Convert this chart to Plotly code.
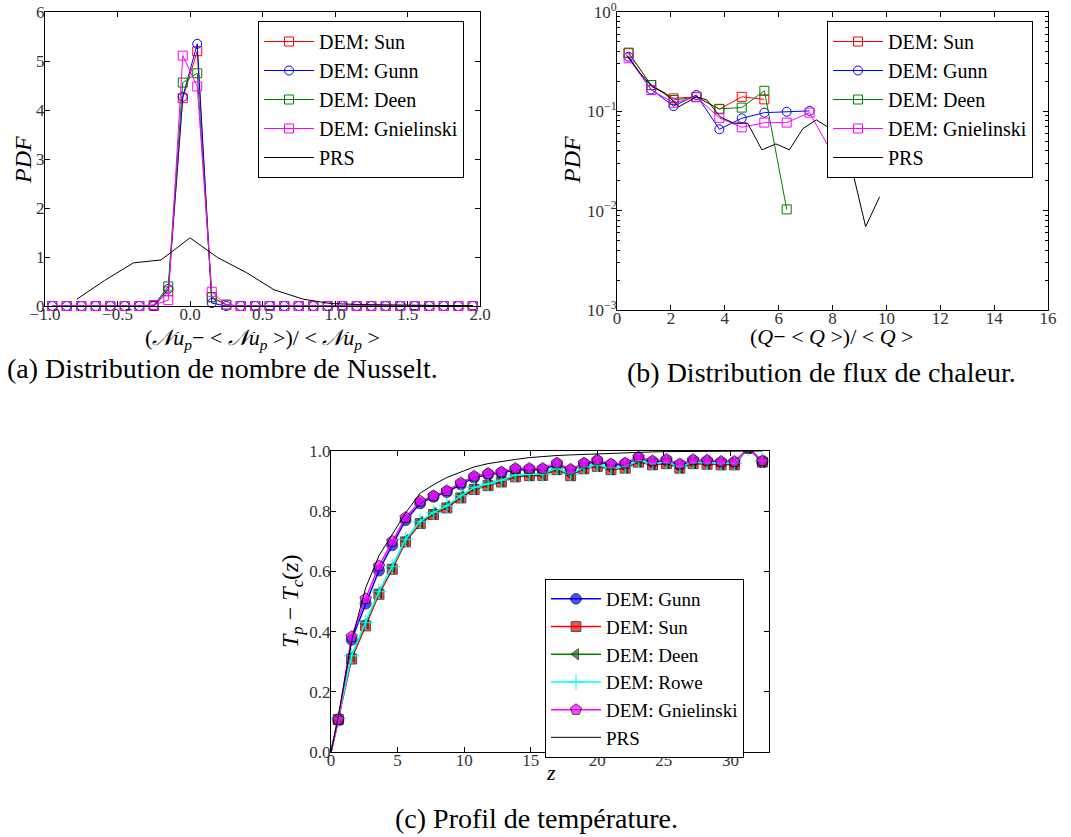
import plotly.graph_objects as go

# ---------------- (a) Nusselt distribution ----------------
nu_x = [-0.95, -0.85, -0.75, -0.65, -0.55, -0.45, -0.35, -0.25, -0.15, -0.05,
        0.05, 0.15, 0.25, 0.35, 0.45, 0.55, 0.65, 0.75, 0.85, 0.95,
        1.05, 1.15, 1.25, 1.35, 1.45, 1.55, 1.65, 1.75, 1.85, 1.95]
nu_sun = [0, 0, 0, 0, 0, 0, 0, 0.0, 0.30, 4.24, 5.20, 0.18, 0.02, 0, 0,
          0, 0, 0, 0, 0, 0, 0, 0, 0, 0, 0, 0, 0, 0, 0]
nu_gunn = [0, 0, 0, 0, 0, 0, 0, 0.0, 0.35, 4.27, 5.35, 0.06, 0.0, 0, 0,
           0, 0, 0, 0, 0, 0, 0, 0, 0, 0, 0, 0, 0, 0, 0]
nu_deen = [0, 0, 0, 0, 0, 0, 0, 0.02, 0.40, 4.56, 4.75, 0.18, 0.03, 0, 0,
           0, 0, 0, 0, 0, 0, 0, 0, 0, 0, 0, 0, 0, 0, 0]
nu_gniel = [0, 0, 0, 0, 0, 0, 0, 0.02, 0.12, 5.11, 4.48, 0.29, 0.02, 0, 0,
            0, 0, 0, 0, 0, 0, 0, 0, 0, 0, 0, 0, 0, 0, 0]
nu_prs_x = [-0.78, -0.59, -0.39, -0.20, 0.0, 0.19, 0.39, 0.58, 0.78, 0.97,
            1.17, 1.36, 1.56, 1.75, 1.95]
nu_prs = [0.14, 0.52, 0.88, 0.94, 1.39, 0.99, 0.68, 0.33, 0.14, 0.05,
          0.03, 0.02, 0.01, 0.01, 0.01]

# ---------------- (b) heat flux distribution ----------------
q_x = [0.43, 1.27, 2.10, 2.95, 3.80, 4.63, 5.47, 6.30, 7.15, 7.98]
q_sun = [0.384, 0.184, 0.135, 0.140, 0.105, 0.140, 0.132]
q_gunn = [0.355, 0.166, 0.113, 0.146, 0.066, 0.085, 0.097, 0.099, 0.101]
q_deen = [0.390, 0.184, 0.130, 0.139, 0.106, 0.109, 0.161, 0.0103]
q_gniel = [0.342, 0.164, 0.122, 0.139, 0.086, 0.069, 0.077, 0.077, 0.097, 0.038]
q_prs_x = [0.35, 0.82, 1.30, 1.79, 2.29, 2.95, 3.34, 3.83, 4.33, 4.85,
           5.38, 5.90, 6.40, 6.90, 7.40, 7.92, 8.30, 8.70, 9.23, 9.75]
q_prs = [0.37, 0.25, 0.177, 0.152, 0.111, 0.140, 0.130, 0.088, 0.076, 0.076,
         0.041, 0.047, 0.041, 0.067, 0.082, 0.067, 0.048, 0.028, 0.0069, 0.0138]

# ---------------- (c) temperature profile ----------------
z = [0.0, 0.55, 1.55, 2.6, 3.6, 4.6, 5.6, 6.7, 7.7, 8.7, 9.75, 10.75, 11.8,
     12.8, 13.85, 14.9, 15.9, 16.97, 18.0, 19.0, 20.0, 21.03, 22.1, 23.1,
     24.15, 25.2, 26.2, 27.2, 28.25, 29.3, 30.3, 31.35, 32.4]
t_gunn = [0.0, 0.105, 0.373, 0.493, 0.603, 0.687, 0.770, 0.826, 0.848, 0.864,
          0.889, 0.912, 0.922, 0.927, 0.938, 0.938, 0.938, 0.956, 0.935, 0.956,
          0.966, 0.953, 0.956, 0.976, 0.963, 0.968, 0.953, 0.967, 0.965, 0.961,
          0.961, 1.01, 0.963]
t_sun = [0.0, 0.108, 0.309, 0.419, 0.524, 0.607, 0.698, 0.759, 0.789, 0.811,
         0.844, 0.872, 0.885, 0.897, 0.914, 0.918, 0.919, 0.938, 0.918, 0.941,
         0.949, 0.938, 0.943, 0.963, 0.954, 0.958, 0.943, 0.958, 0.956, 0.954,
         0.954, 1.01, 0.963]
t_deen = [0.0, 0.110, 0.318, 0.428, 0.531, 0.614, 0.704, 0.764, 0.794, 0.816,
          0.849, 0.877, 0.889, 0.901, 0.918, 0.921, 0.922, 0.941, 0.921, 0.944,
          0.952, 0.941, 0.946, 0.966, 0.957, 0.961, 0.946, 0.961, 0.959, 0.957,
          0.957, 1.01, 0.966]
t_rowe = [0.0, 0.111, 0.320, 0.430, 0.533, 0.616, 0.706, 0.766, 0.796, 0.818,
          0.851, 0.879, 0.891, 0.903, 0.920, 0.923, 0.924, 0.943, 0.923, 0.946,
          0.954, 0.943, 0.948, 0.968, 0.959, 0.963, 0.948, 0.963, 0.961, 0.959,
          0.959, 1.01, 0.968]
t_gniel = [0.0, 0.108, 0.383, 0.509, 0.618, 0.700, 0.779, 0.833, 0.851, 0.868,
           0.894, 0.916, 0.925, 0.930, 0.942, 0.942, 0.942, 0.960, 0.939, 0.960,
           0.970, 0.957, 0.960, 0.980, 0.967, 0.972, 0.957, 0.971, 0.969, 0.965,
           0.965, 1.01, 0.967]
t_prs = [0.0, 0.12, 0.37, 0.545, 0.652, 0.722, 0.794, 0.860, 0.888, 0.912,
         0.931, 0.947, 0.958, 0.966, 0.972, 0.978, 0.982, 0.985, 0.987, 0.989,
         0.991, 0.993, 0.994, 0.996, 0.997, 0.998, 0.998, 0.999, 0.999, 1.0,
         1.0, 1.0, 1.0]

FONT = "Liberation Serif"
W, H = 1071, 837


def px(x):
    return x / W


def py(y):
    return 1 - y / H


fig = go.Figure()

# ---- (a) traces ----
a_series = [("DEM: Sun", nu_sun, "red", "square-open"),
            ("DEM: Gunn", nu_gunn, "blue", "circle-open"),
            ("DEM: Deen", nu_deen, "green", "square-open"),
            ("DEM: Gnielinski", nu_gniel, "magenta", "square-open")]
for name, vals, col, sym in a_series:
    fig.add_trace(go.Scatter(x=nu_x, y=vals, name=name, mode="lines+markers",
                             line=dict(color=col, width=1),
                             marker=dict(symbol=sym, size=9, color=col,
                                         line=dict(color=col, width=1)),
                             cliponaxis=False,
                             xaxis="x", yaxis="y", legend="legend"))
fig.add_trace(go.Scatter(x=nu_prs_x, y=nu_prs, name="PRS", mode="lines",
                         line=dict(color="black", width=1),
                         xaxis="x", yaxis="y", legend="legend"))

# ---- (b) traces ----
b_series = [("DEM: Sun", q_sun, "red", "square-open"),
            ("DEM: Gunn", q_gunn, "blue", "circle-open"),
            ("DEM: Deen", q_deen, "green", "square-open"),
            ("DEM: Gnielinski", q_gniel, "magenta", "square-open")]
for name, vals, col, sym in b_series:
    fig.add_trace(go.Scatter(x=q_x[:len(vals)], y=vals, name=name,
                             mode="lines+markers",
                             line=dict(color=col, width=1),
                             marker=dict(symbol=sym, size=9, color=col,
                                         line=dict(color=col, width=1)),
                             xaxis="x2", yaxis="y2", legend="legend2"))
fig.add_trace(go.Scatter(x=q_prs_x, y=q_prs, name="PRS", mode="lines",
                         line=dict(color="black", width=1),
                         xaxis="x2", yaxis="y2", legend="legend2"))

# ---- (c) traces ----
c_series = [("DEM: Gunn", t_gunn, "blue", "circle", 11),
            ("DEM: Sun", t_sun, "red", "square", 10),
            ("DEM: Deen", t_deen, "green", "triangle-left", 10),
            ("DEM: Rowe", t_rowe, "cyan", "cross-thin-open", 11),
            ("DEM: Gnielinski", t_gniel, "magenta", "pentagon", 12)]
for name, vals, col, sym, s in c_series:
    msz = [0] + [s] * (len(z) - 1)
    if sym == "cross-thin-open":
        mk = dict(symbol=sym, size=msz, color=col, line=dict(color=col, width=1.5))
    else:
        mk = dict(symbol=sym, size=msz, color=col, line=dict(color="black", width=1))
    fig.add_trace(go.Scatter(x=z, y=vals, name=name, mode="lines+markers",
                             line=dict(color=col, width=1.5), marker=mk,
                             xaxis="x3", yaxis="y3", legend="legend3"))
fig.add_trace(go.Scatter(x=z, y=t_prs, name="PRS", mode="lines",
                         line=dict(color="black", width=1),
                         xaxis="x3", yaxis="y3", legend="legend3"))

tickfont = dict(family=FONT, size=17, color="#333")
axcommon = dict(showline=True, linecolor="black", linewidth=1, mirror="ticks",
                ticks="inside", ticklen=5, tickcolor="black", showgrid=False,
                zeroline=False, tickfont=tickfont, automargin=False,
                ticklabeloverflow="allow")
xax = dict(axcommon, ticklabelstandoff=-7)
yax = dict(axcommon, ticklabelstandoff=-4)

minor_vals = [m * 10 ** e for e in (-3, -2, -1) for m in range(2, 10)]

legfont = dict(family=FONT, size=20, color="black")
fig.update_layout(
    width=W, height=H, margin=dict(l=0, r=0, t=0, b=0),
    paper_bgcolor="white", plot_bgcolor="white",
    font=dict(family=FONT, color="black"),
    xaxis=dict(domain=[px(45), px(480)], range=[-1.0, 2.0], anchor="y",
               tickvals=[-1.0, -0.5, 0.0, 0.5, 1.0, 1.5, 2.0],
               ticktext=["−1.0", "−0.5", "0.0", "0.5", "1.0", "1.5", "2.0"],
               **xax),
    yaxis=dict(domain=[py(306), py(12)], range=[0, 6], anchor="x",
               tickvals=[0, 1, 2, 3, 4, 5, 6], **yax),
    xaxis2=dict(domain=[px(617), px(1048)], range=[0, 16], anchor="y2",
                tickvals=[0, 2, 4, 6, 8, 10, 12, 14, 16], **xax),
    yaxis2=dict(domain=[py(310), py(12)], type="log", range=[-3, 0], anchor="x2",
                tickvals=[0.001, 0.01, 0.1, 1],
                ticktext=["10<sup>−3</sup>", "10<sup>−2</sup>", "10<sup>−1</sup>", "10<sup>0</sup>"],
                minor=dict(tickvals=minor_vals, ticks="inside", ticklen=3,
                           tickcolor="black"),
                **yax),
    xaxis3=dict(domain=[px(331), px(769)], range=[0, 32.9], anchor="y3",
                tickvals=[0, 5, 10, 15, 20, 25, 30], **xax),
    yaxis3=dict(domain=[py(752), py(451)], range=[0, 1.0], anchor="x3",
                tickvals=[0, 0.2, 0.4, 0.6, 0.8, 1.0],
                ticktext=["0.0", "0.2", "0.4", "0.6", "0.8", "1.0"], **yax),
    legend=dict(x=px(258), y=py(21), xanchor="left", yanchor="top",
                bgcolor="white", bordercolor="black", borderwidth=1,
                font=legfont, itemwidth=50, tracegroupgap=0),
    legend2=dict(x=px(827), y=py(21), xanchor="left", yanchor="top",
                 bgcolor="white", bordercolor="black", borderwidth=1,
                 font=legfont, itemwidth=50, tracegroupgap=0),
    legend3=dict(x=px(545), y=py(579), xanchor="left", yanchor="top",
                 bgcolor="white", bordercolor="black", borderwidth=1,
                 font=dict(family=FONT, size=19, color="black"), itemwidth=50,
                 tracegroupgap=0),
)

ann = [
    dict(x=px(262), y=py(339), text="(<i>𝒩u<sub>p</sub></i>− &lt; <i>𝒩u<sub>p</sub></i> &gt;)/ &lt; <i>𝒩u<sub>p</sub></i> &gt;",
         size=22),
    dict(x=px(832), y=py(336), text="(<i>Q</i>− &lt; <i>Q</i> &gt;)/ &lt; <i>Q</i> &gt;", size=22),
    dict(x=px(551), y=py(772), text="<i>z</i>", size=22),
    dict(x=px(222), y=py(368), text="(a) Distribution de nombre de Nusselt.", size=28),
    dict(x=px(821), y=py(372), text="(b) Distribution de flux de chaleur.", size=28),
    dict(x=px(536), y=py(818), text="(c) Profil de température.", size=28),
]
for a in ann:
    fig.add_annotation(x=a["x"], y=a["y"], xref="paper", yref="paper",
                       text=a["text"], showarrow=False, xanchor="center",
                       yanchor="middle", font=dict(family=FONT, size=a["size"], color="black"))

for xx, yy, txt in [(23, 160, "<i>PDF</i>"), (572, 160, "<i>PDF</i>"),
                    (292, 602, "<i>T<sub>p</sub></i> − <i>T<sub>c</sub></i>(<i>z</i>)")]:
    fig.add_annotation(x=px(xx), y=py(yy), xref="paper", yref="paper", text=txt,
                       showarrow=False, textangle=-90, xanchor="center",
                       yanchor="middle", font=dict(family=FONT, size=24, color="black"))

fig.write_html("out.html", config={"displayModeBar": False},
               post_script="document.body.style.margin='0px';document.body.style.overflow='hidden';")
